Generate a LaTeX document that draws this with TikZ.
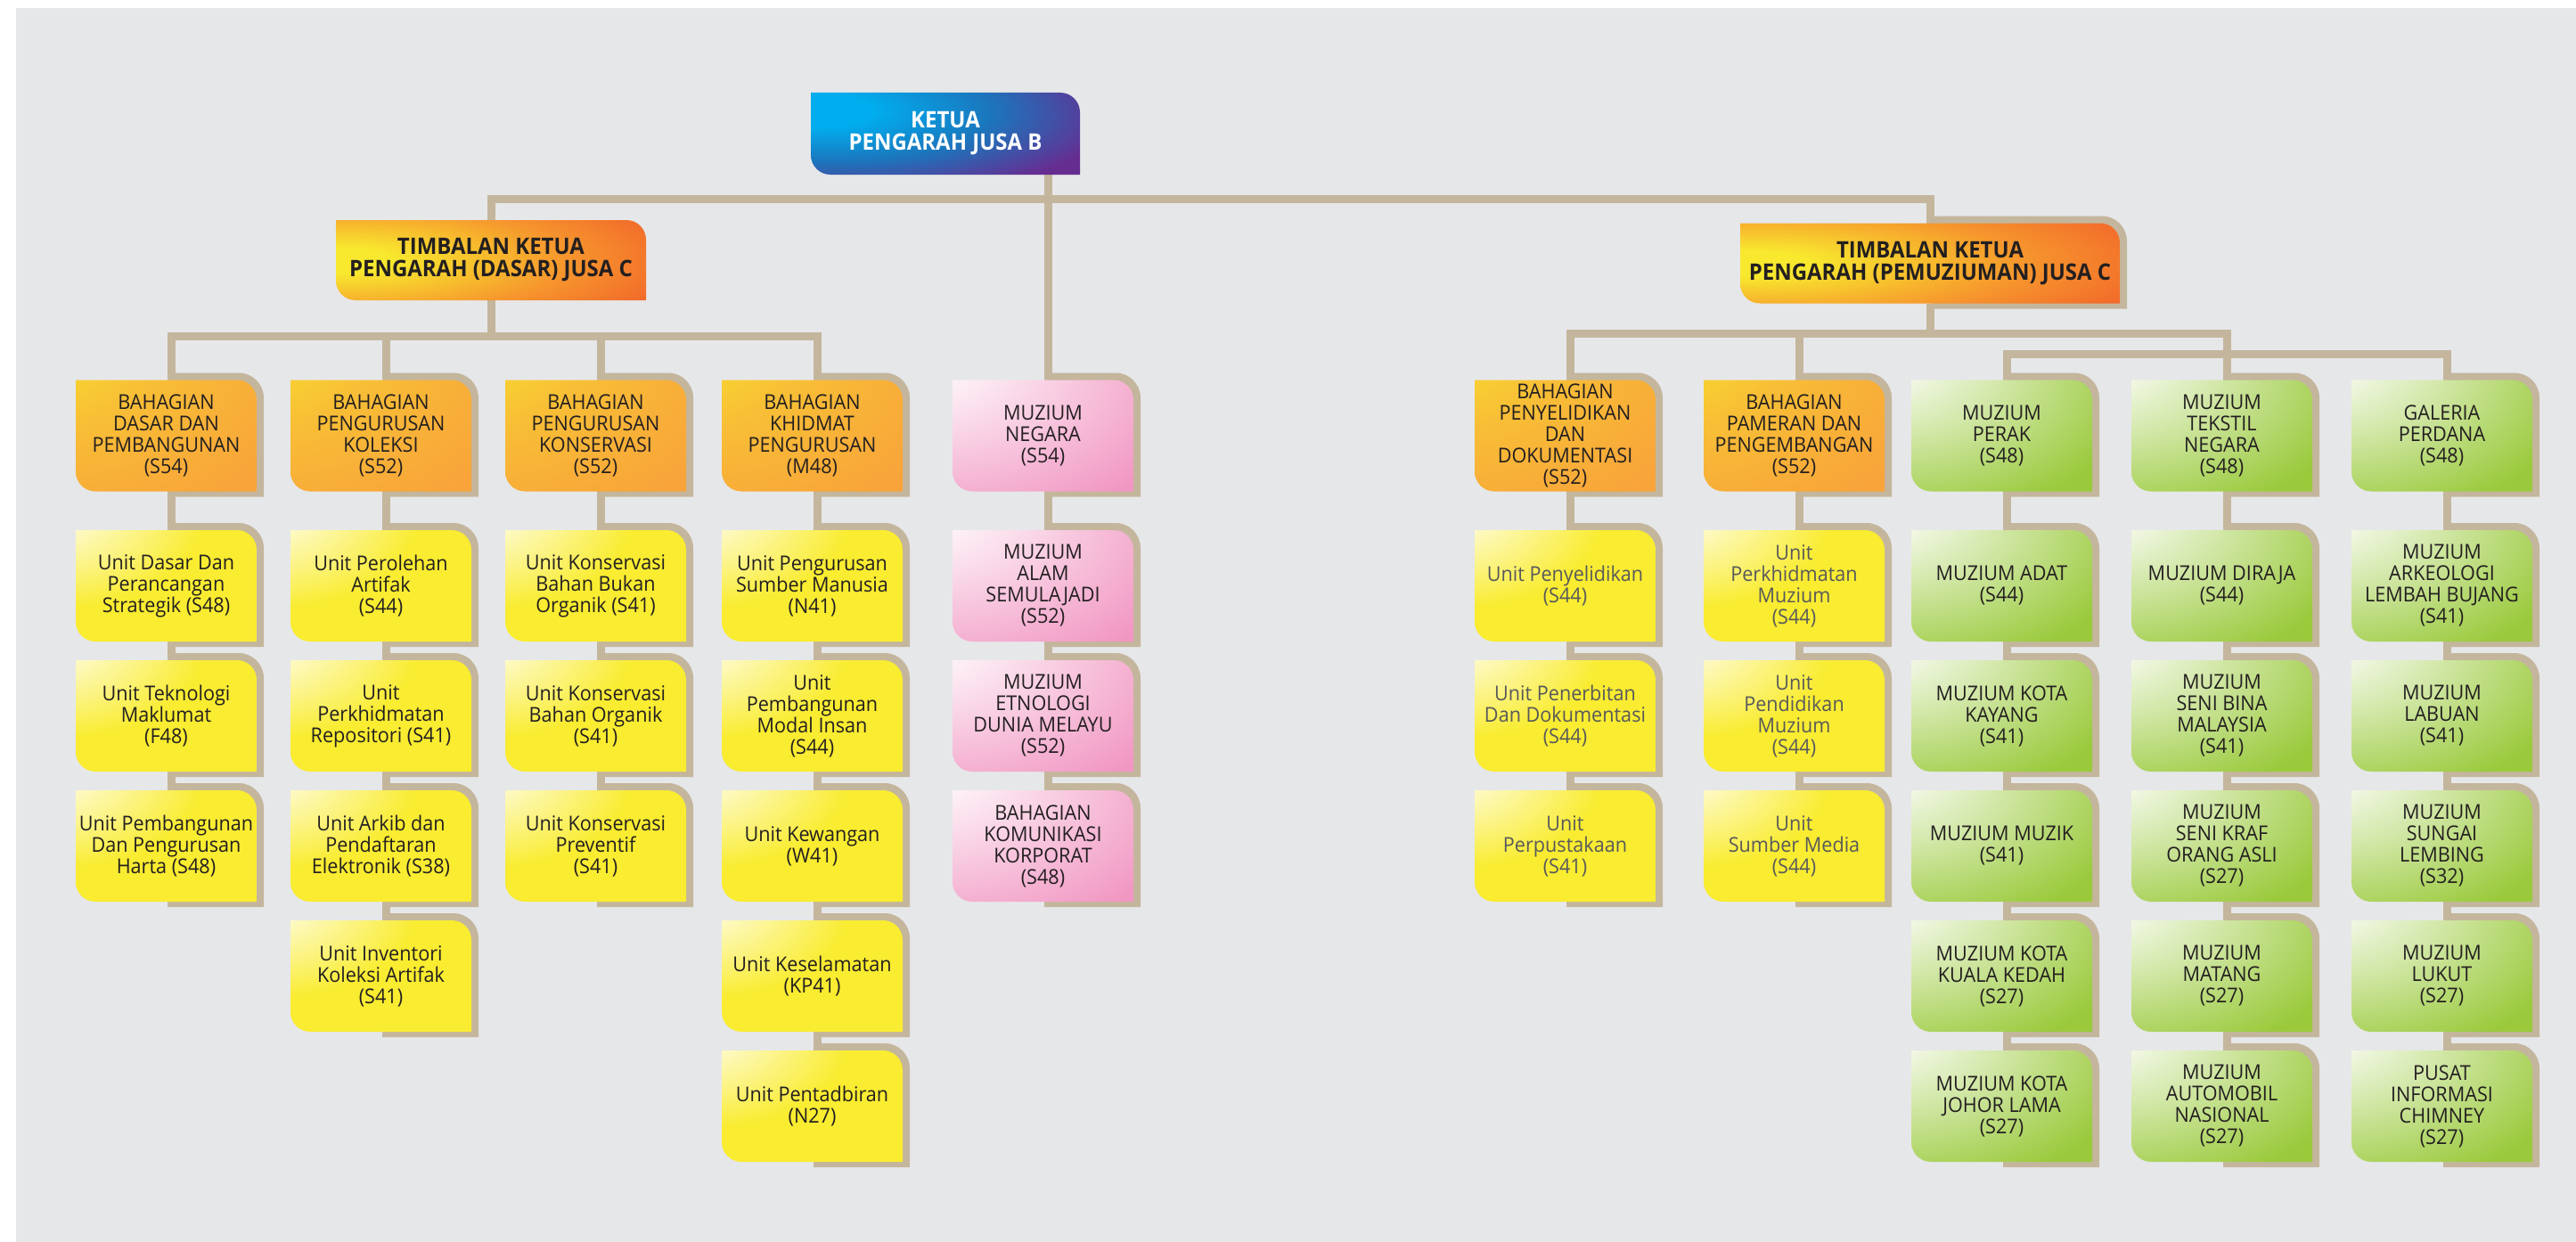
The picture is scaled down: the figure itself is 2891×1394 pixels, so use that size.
\documentclass[tikz,border=0pt]{standalone}
\usepackage{fontspec}
\setmainfont{Open Sans}[FakeStretch=0.94]
\usetikzlibrary{positioning}

\definecolor{paper}{RGB}{230,231,233}
\definecolor{tanc}{RGB}{196,182,157}
\definecolor{inkc}{RGB}{35,31,32}
\definecolor{greyink}{RGB}{88,89,91}
\definecolor{unitc}{RGB}{249,236,49}
\definecolor{greenc}{RGB}{154,202,60}
\definecolor{pinkc}{RGB}{241,150,194}
\definecolor{bhgy}{RGB}{247,229,45}
\definecolor{bhgm}{RGB}{248,190,54}
\definecolor{bhgo}{RGB}{248,164,58}
\definecolor{timy}{RGB}{248,232,46}
\definecolor{timo}{RGB}{246,150,45}
\definecolor{timr}{RGB}{241,90,41}
\definecolor{ketc}{RGB}{0,174,239}
\definecolor{ketb}{RGB}{28,117,188}
\definecolor{ketp}{RGB}{102,45,145}

\pgfdeclareradialshading{unitshade}{\pgfpoint{-40bp}{40bp}}{color(0bp)=(white); color(6bp)=(white); color(40bp)=(unitc); color(160bp)=(unitc)}
\pgfdeclareradialshading{greenshade}{\pgfpoint{-40bp}{40bp}}{color(0bp)=(white); color(8bp)=(white); color(62bp)=(greenc); color(160bp)=(greenc)}
\pgfdeclareradialshading{pinkshade}{\pgfpoint{-40bp}{40bp}}{color(0bp)=(white); color(8bp)=(white); color(66bp)=(pinkc); color(160bp)=(pinkc)}
\pgfdeclareradialshading{bhgshade}{\pgfpoint{-50bp}{50bp}}{color(0bp)=(bhgy); color(8bp)=(bhgy); color(38bp)=(bhgm); color(72bp)=(bhgo); color(180bp)=(bhgo)}
\pgfdeclareradialshading{timshade}{\pgfpoint{-25bp}{0bp}}{color(0bp)=(timy); color(8bp)=(timy); color(33bp)=(timo); color(56bp)=(timr); color(200bp)=(timr)}
\pgfdeclareradialshading{ketuashade}{\pgfpoint{-25bp}{15bp}}{color(0bp)=(ketc); color(10bp)=(ketc); color(30bp)=(ketb); color(50bp)=(ketp); color(200bp)=(ketp)}

% box with two rounded corners (top right, bottom left)
\makeatletter
\newdimen\lfxa \newdimen\lfya \newdimen\lfxb \newdimen\lfyb
\pgfdeclareshape{leafbox}{
  \inheritsavedanchors[from=rectangle]
  \inheritanchorborder[from=rectangle]
  \inheritanchor[from=rectangle]{center}
  \inheritanchor[from=rectangle]{north}
  \inheritanchor[from=rectangle]{south}
  \inheritanchor[from=rectangle]{east}
  \inheritanchor[from=rectangle]{west}
  \inheritanchor[from=rectangle]{north east}
  \inheritanchor[from=rectangle]{north west}
  \inheritanchor[from=rectangle]{south east}
  \inheritanchor[from=rectangle]{south west}
  \backgroundpath{%
    \southwest \lfxa=\pgf@x \lfya=\pgf@y
    \northeast \lfxb=\pgf@x \lfyb=\pgf@y
    \pgfpathmoveto{\pgfqpoint{\lfxa}{\lfyb}}%
    \pgfpathlineto{\pgfpointadd{\pgfqpoint{\lfxb}{\lfyb}}{\pgfqpoint{-22pt}{0pt}}}%
    \pgfpatharc{90}{0}{22pt}%
    \pgfpathlineto{\pgfqpoint{\lfxb}{\lfya}}%
    \pgfpathlineto{\pgfpointadd{\pgfqpoint{\lfxa}{\lfya}}{\pgfqpoint{22pt}{0pt}}}%
    \pgfpatharc{270}{180}{22pt}%
    \pgfpathclose
  }
}
\makeatother

\pgfdeclarelayer{back}
\pgfdeclarelayer{links}
\pgfsetlayers{back,links,main}

\tikzset{
  box/.style={shape=leafbox, minimum width=203pt, minimum height=125pt, inner sep=0pt,
    outer sep=0pt, align=center, text=inkc, font=\fontsize{23}{24}\selectfont, shade},
  unit/.style={box, shading=unitshade},
  unitgrey/.style={unit, text=greyink},
  bhg/.style={box, shading=bhgshade},
  pinkbox/.style={box, shading=pinkshade},
  greenbox/.style={box, shading=greenshade},
  timbox/.style={box, shading=timshade, minimum width=348pt, minimum height=90pt,
    font=\fontsize{25.5}{25}\selectfont\bfseries},
  ketuabox/.style={box, shading=ketuashade, minimum width=302pt, minimum height=92pt,
    text=white, font=\fontsize{25.5}{25}\selectfont\bfseries},
  link/.style={draw=tanc, line width=9pt},
  plate/.style={fill=tanc}
}

\begin{document}
\begin{tikzpicture}[x=1pt,y=1pt,node distance=146pt,on grid]
\useasboundingbox (0,0) rectangle (2891,-1394);
\begin{pgfonlayer}{back}
  \fill[paper] (18,-9) rectangle (2891,-1394);
\end{pgfonlayer}

% top
\node[ketuabox] (ketua) at (1061,-150) {KETUA\\PENGARAH JUSA B};
\node[timbox] (tdasar) at (551,-292) {TIMBALAN KETUA\\PENGARAH (DASAR) JUSA C};
\node[timbox, minimum width=426pt] (tmuzium) at (2166,-295.5) {TIMBALAN KETUA\\PENGARAH (PEMUZIUMAN) JUSA C};

% heads of the columns
\node[bhg] (bdasar) at (186.5,-489) {BAHAGIAN\\DASAR DAN\\PEMBANGUNAN\\(S54)};
\node[bhg] (bkoleksi) at (427.5,-489) {BAHAGIAN\\PENGURUSAN\\KOLEKSI\\(S52)};
\node[bhg] (bkonservasi) at (668.5,-489) {BAHAGIAN\\PENGURUSAN\\KONSERVASI\\(S52)};
\node[bhg] (bkhidmat) at (911.5,-489) {BAHAGIAN\\KHIDMAT\\PENGURUSAN\\(M48)};
\node[pinkbox] (mnegara) at (1170.5,-489) {MUZIUM\\NEGARA\\(S54)};
\node[bhg] (bpenyelidikan) at (1756.5,-489) {BAHAGIAN\\PENYELIDIKAN\\DAN\\DOKUMENTASI\\(S52)};
\node[bhg] (bpameran) at (2013.5,-489) {BAHAGIAN\\PAMERAN DAN\\PENGEMBANGAN\\(S52)};
\node[greenbox] (mperak) at (2246.5,-489) {MUZIUM\\PERAK\\(S48)};
\node[greenbox] (mtekstil) at (2493.5,-489) {MUZIUM\\TEKSTIL\\NEGARA\\(S48)};
\node[greenbox] (gperdana) at (2740.5,-489) {GALERIA\\PERDANA\\(S48)};

% units
\node[unit] (udasar) [below=168.5pt of bdasar] {Unit Dasar Dan\\Perancangan\\Strategik (S48)};
\node[unit] (uteknologi) [below=of udasar] {Unit Teknologi\\Maklumat\\(F48)};
\node[unit] (uharta) [below=of uteknologi] {Unit Pembangunan\\Dan Pengurusan\\Harta (S48)};

\node[unit] (uperolehan) [below=168.5pt of bkoleksi] {Unit Perolehan\\Artifak\\(S44)};
\node[unit] (urepositori) [below=of uperolehan] {Unit\\Perkhidmatan\\Repositori (S41)};
\node[unit] (uarkib) [below=of urepositori] {Unit Arkib dan\\Pendaftaran\\Elektronik (S38)};
\node[unit] (uinventori) [below=of uarkib] {Unit Inventori\\Koleksi Artifak\\(S41)};

\node[unit] (ubukan) [below=168.5pt of bkonservasi] {Unit Konservasi\\Bahan Bukan\\Organik (S41)};
\node[unit] (uorganik) [below=of ubukan] {Unit Konservasi\\Bahan Organik\\(S41)};
\node[unit] (upreventif) [below=of uorganik] {Unit Konservasi\\Preventif\\(S41)};

\node[unit] (usumber) [below=168.5pt of bkhidmat] {Unit Pengurusan\\Sumber Manusia\\(N41)};
\node[unit] (umodal) [below=of usumber] {Unit\\Pembangunan\\Modal Insan\\(S44)};
\node[unit] (ukewangan) [below=of umodal] {Unit Kewangan\\(W41)};
\node[unit] (ukeselamatan) [below=of ukewangan] {Unit Keselamatan\\(KP41)};
\node[unit] (upentadbiran) [below=of ukeselamatan] {Unit Pentadbiran\\(N27)};

\node[pinkbox] (malam) [below=168.5pt of mnegara] {MUZIUM\\ALAM\\SEMULAJADI\\(S52)};
\node[pinkbox] (metnologi) [below=of malam] {MUZIUM\\ETNOLOGI\\DUNIA MELAYU\\(S52)};
\node[pinkbox] (bkorporat) [below=of metnologi] {BAHAGIAN\\KOMUNIKASI\\KORPORAT\\(S48)};

\node[unitgrey] (upenyelidikan) [below=168.5pt of bpenyelidikan] {Unit Penyelidikan\\(S44)};
\node[unitgrey] (upenerbitan) [below=of upenyelidikan] {Unit Penerbitan\\Dan Dokumentasi\\(S44)};
\node[unitgrey] (uperpustakaan) [below=of upenerbitan] {Unit\\Perpustakaan\\(S41)};

\node[unitgrey] (uperkhidmatan) [below=168.5pt of bpameran] {Unit\\Perkhidmatan\\Muzium\\(S44)};
\node[unitgrey] (upendidikan) [below=of uperkhidmatan] {Unit\\Pendidikan\\Muzium\\(S44)};
\node[unitgrey] (umedia) [below=of upendidikan] {Unit\\Sumber Media\\(S44)};

\node[greenbox] (madat) [below=168.5pt of mperak] {MUZIUM ADAT\\(S44)};
\node[greenbox] (mkayang) [below=of madat] {MUZIUM KOTA\\KAYANG\\(S41)};
\node[greenbox] (mmuzik) [below=of mkayang] {MUZIUM MUZIK\\(S41)};
\node[greenbox] (mkedah) [below=of mmuzik] {MUZIUM KOTA\\KUALA KEDAH\\(S27)};
\node[greenbox] (mjohor) [below=of mkedah] {MUZIUM KOTA\\JOHOR LAMA\\(S27)};

\node[greenbox] (mdiraja) [below=168.5pt of mtekstil] {MUZIUM DIRAJA\\(S44)};
\node[greenbox] (msenibina) [below=of mdiraja] {MUZIUM\\SENI BINA\\MALAYSIA\\(S41)};
\node[greenbox] (msenikraf) [below=of msenibina] {MUZIUM\\SENI KRAF\\ORANG ASLI\\(S27)};
\node[greenbox] (mmatang) [below=of msenikraf] {MUZIUM\\MATANG\\(S27)};
\node[greenbox] (mautomobil) [below=of mmatang] {MUZIUM\\AUTOMOBIL\\NASIONAL\\(S27)};

\node[greenbox] (markeologi) [below=168.5pt of gperdana] {MUZIUM\\ARKEOLOGI\\LEMBAH BUJANG\\(S41)};
\node[greenbox] (mlabuan) [below=of markeologi] {MUZIUM\\LABUAN\\(S41)};
\node[greenbox] (mlembing) [below=of mlabuan] {MUZIUM\\SUNGAI\\LEMBING\\(S32)};
\node[greenbox] (mlukut) [below=of mlembing] {MUZIUM\\LUKUT\\(S27)};
\node[greenbox] (mchimney) [below=of mlukut] {PUSAT\\INFORMASI\\CHIMNEY\\(S27)};

\begin{pgfonlayer}{links}
% tan plates behind the boxes
\foreach \n in {tmuzium,bdasar,udasar,uteknologi,uharta,bkoleksi,uperolehan,urepositori,uarkib,uinventori,
  bkonservasi,ubukan,uorganik,upreventif,bkhidmat,usumber,umodal,ukewangan,ukeselamatan,upentadbiran,
  mnegara,malam,metnologi,bkorporat,bpenyelidikan,upenyelidikan,upenerbitan,uperpustakaan,
  bpameran,uperkhidmatan,upendidikan,umedia,mperak,madat,mkayang,mmuzik,mkedah,mjohor,
  mtekstil,mdiraja,msenibina,msenikraf,mmatang,mautomobil,gperdana,markeologi,mlabuan,mlembing,mlukut,mchimney}
  \fill[plate] ([xshift=1.5pt,yshift=8pt]\n.north) -- ([xshift=-20pt,yshift=8pt]\n.north east)
    arc[start angle=90,end angle=0,radius=28pt] -- ([xshift=8pt,yshift=-6pt]\n.south east)
    -- ([xshift=1.5pt,yshift=-6pt]\n.south) -- cycle;

% tree lines
\coordinate (jtop) at (1176.5,-223.5);
\coordinate (jdasar) at (551,-377.5);
\coordinate (jmuzium) at (2166,-374.5);
\coordinate (jgreen) at (2499.5,-397.5);
\draw[link] ([xshift=6pt]mnegara.north |- ketua.south) -- ([xshift=6pt]mnegara.north);
\draw[link] (jtop) -| (tdasar.north);
\draw[link] (jtop) -| (tmuzium.north);
\draw[link] (tdasar.south) -- (jdasar);
\draw[link] (tmuzium.south) -- (jmuzium);
\foreach \b in {bdasar,bkoleksi,bkonservasi,bkhidmat}
  \draw[link] (jdasar) -| ([xshift=6pt]\b.north);
\foreach \b in {bpenyelidikan,bpameran,mtekstil}
  \draw[link] (jmuzium) -| ([xshift=6pt]\b.north);
\foreach \b in {mperak,gperdana}
  \draw[link] (jgreen) -| ([xshift=6pt]\b.north);
\foreach \a/\b in {bdasar/uharta,bkoleksi/uinventori,bkonservasi/upreventif,bkhidmat/upentadbiran,
  mnegara/bkorporat,bpenyelidikan/uperpustakaan,bpameran/umedia,mperak/mjohor,mtekstil/mautomobil,gperdana/mchimney}
  \draw[link] ([xshift=6pt]\a.south) -- ([xshift=6pt]\b.north);
\end{pgfonlayer}
\end{tikzpicture}
\end{document}
